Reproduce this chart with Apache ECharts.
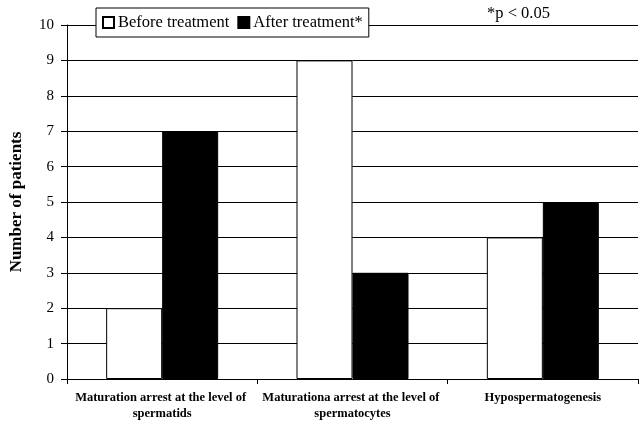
<!DOCTYPE html>
<html>
<head>
<meta charset="utf-8">
<script src="https://cdn.jsdelivr.net/npm/echarts@6/dist/echarts.min.js"></script>
<style>
  html, body { margin: 0; padding: 0; background: #fff; }
  #chart { width: 640px; height: 425px; }
</style>
</head>
<body>
<div id="chart"></div>
<script>
const categories = [
  'Maturation arrest at the level of spermatids',
  'Maturationa arrest at the level of spermatocytes',
  'Hypospermatogenesis'
];
const beforeTreatment = [2, 9, 4];
const afterTreatment = [7, 3, 5];
const seriesNames = ['Before treatment', 'After treatment*'];

const serif = 'Liberation Serif, Times New Roman, serif';

const chart = echarts.init(document.getElementById('chart'));
chart.setOption({
  animation: false,
  backgroundColor: '#fff',
  textStyle: { fontFamily: serif, color: '#000' },
  grid: { left: 66, right: -2, top: 25, bottom: 46 },
  legend: {
    data: seriesNames,
    left: 96,
    top: 8,
    padding: [6, 6, 6, 6],
    itemGap: 8,
    itemWidth: 11,
    itemHeight: 11,
    icon: 'rect',
    backgroundColor: '#fff',
    borderColor: '#000',
    borderWidth: 1,
    borderRadius: 0,
    textStyle: { fontFamily: serif, fontSize: 16.5, color: '#000', padding: [0, 0, 0, -1] }
  },
  graphic: [{
    type: 'text',
    left: 487,
    top: 5,
    style: { text: '*p < 0.05', font: '16.5px ' + serif, fill: '#000' }
  }],
  xAxis: {
    type: 'category',
    data: categories,
    axisLine: { lineStyle: { color: '#000', width: 1 } },
    axisTick: { show: true, length: 5, lineStyle: { color: '#000' } },
    axisLabel: {
      interval: 0,
      color: '#000',
      fontFamily: serif,
      fontWeight: 'bold',
      fontSize: 12.5,
      lineHeight: 16,
      width: 190,
      overflow: 'break',
      margin: 11
    }
  },
  yAxis: {
    type: 'value',
    min: 0,
    max: 10,
    interval: 1,
    name: 'Number of patients',
    nameLocation: 'middle',
    nameRotate: 90,
    nameGap: 42,
    nameTextStyle: { fontFamily: serif, fontWeight: 'bold', fontSize: 17, color: '#000' },
    axisLine: { show: true, lineStyle: { color: '#000', width: 1 } },
    axisTick: { show: true, length: 6, lineStyle: { color: '#000' } },
    axisLabel: { color: '#000', fontFamily: serif, fontSize: 15, margin: 13 },
    splitLine: { show: true, lineStyle: { color: '#000', width: 1 } }
  },
  series: [
    {
      name: seriesNames[0],
      type: 'bar',
      data: beforeTreatment,
      barWidth: 56,
      barGap: 0,
      itemStyle: { color: '#fff', borderColor: '#000', borderWidth: 1 }
    },
    {
      name: seriesNames[1],
      type: 'bar',
      data: afterTreatment,
      barWidth: 56,
      barGap: 0,
      itemStyle: { color: '#000', borderColor: '#000', borderWidth: 1 }
    }
  ]
});
</script>
</body>
</html>
